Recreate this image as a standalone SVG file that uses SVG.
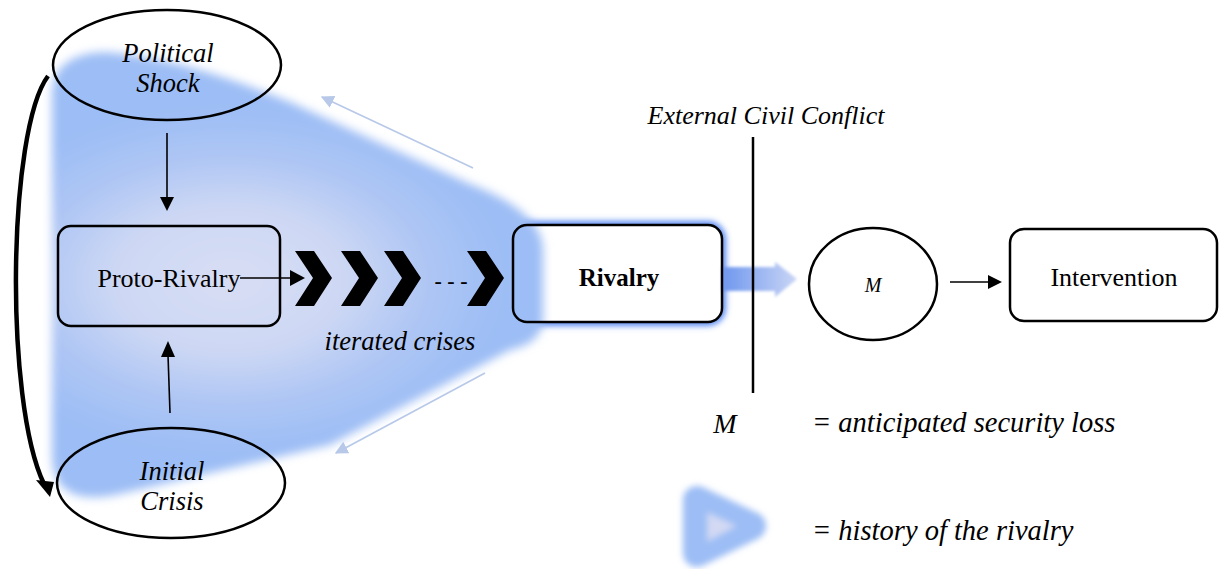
<svg xmlns="http://www.w3.org/2000/svg" width="1220" height="569" viewBox="0 0 1220 569">
<style>
text{font-family:"Liberation Serif","DejaVu Serif","Times New Roman",serif;fill:#000}
.i{font-style:italic}
.ln{stroke:#000;stroke-width:1.6;fill:none}
.bx{fill:none;stroke:#000;stroke-width:2.5}
.lb{stroke:#b7c8e8;stroke-width:1.6;fill:none}
</style>
<defs>
<radialGradient id="bg" gradientUnits="userSpaceOnUse" cx="230" cy="280" r="175" gradientTransform="translate(230 280) scale(1.6 1) translate(-230 -280)">
<stop offset="0" stop-color="#d7ddf4"/>
<stop offset="0.4" stop-color="#ced8f4"/>
<stop offset="0.72" stop-color="#adc5f4"/>
<stop offset="1" stop-color="#9cbdf5"/>
</radialGradient>
<linearGradient id="fa" x1="0" x2="1" y1="0" y2="0">
<stop offset="0" stop-color="#6f97ee"/>
<stop offset="1" stop-color="#c9d5f5"/>
</linearGradient>
<filter id="blur" filterUnits="userSpaceOnUse" x="0" y="0" width="1220" height="569"><feGaussianBlur stdDeviation="5"/></filter>
<filter id="blur2" filterUnits="userSpaceOnUse" x="0" y="0" width="1220" height="569"><feGaussianBlur stdDeviation="3"/></filter>
<filter id="blur1" filterUnits="userSpaceOnUse" x="0" y="0" width="1220" height="569"><feGaussianBlur stdDeviation="1.5"/></filter>
<marker id="lah" viewBox="0 0 10 10" refX="9" refY="5" markerWidth="13" markerHeight="13" markerUnits="userSpaceOnUse" orient="auto"><path d="M0,0 L10,5 L0,10 Z" fill="#b7c8e8"/></marker>
</defs>

<g id="rivalry-bg">
<rect x="513" y="225" width="209" height="97" rx="14" fill="none" stroke="#3f78f0" stroke-width="7" filter="url(#blur2)"/>
<rect x="513" y="225" width="209" height="97" rx="14" fill="#fff"/>
</g>

<g id="history-blob">
<path d="M52 95 Q52 54 105 52 Q180 57 290 102 L470 184 Q543 212 543 250 L543 318 Q543 343 510 350 L330 445 L115 495 Q52 507 52 455 Z" fill="url(#bg)" filter="url(#blur)"/>
</g>

<g id="connectors">
<path d="M48 76 C8 130, 4 400, 44 484" stroke="#000" stroke-width="4.5" fill="none"/>
<path d="M36 480 L54 482 L50 497 Z" fill="#000"/>
<line x1="167" y1="133" x2="167" y2="199" class="ln"/>
<path d="M160 197 L174 197 L167 211 Z" fill="#000"/>
<line x1="170" y1="413" x2="168" y2="355" class="ln"/>
<path d="M161 357 L175 357 L168 341 Z" fill="#000"/>
<line x1="240" y1="278" x2="292" y2="278" class="ln"/>
<path d="M290 270 L305 278 L290 286 Z" fill="#000"/>
<line x1="473" y1="168" x2="322" y2="97" class="lb" marker-end="url(#lah)"/>
<line x1="485" y1="373" x2="336" y2="453" class="lb" marker-end="url(#lah)"/>
<line x1="950" y1="282" x2="990" y2="282" class="ln"/>
<path d="M988 275 L1002 282 L988 289 Z" fill="#000"/>
<polygon points="722,267 775,267 775,262 797,279 775,297 775,291 722,291" fill="url(#fa)" filter="url(#blur1)"/>
<line x1="753" y1="137" x2="753" y2="393" stroke="#000" stroke-width="2.5"/>
</g>

<g id="political-shock">
<ellipse cx="167" cy="65" rx="114" ry="55" class="bx"/>
<text class="i" x="168" y="62" font-size="26.5" text-anchor="middle">Political</text>
<text class="i" x="168" y="92" font-size="26.5" text-anchor="middle">Shock</text>
</g>

<g id="proto-rivalry">
<rect x="58" y="226" width="222" height="100" rx="13" class="bx"/>
<text x="169" y="287" font-size="26" text-anchor="middle">Proto-Rivalry</text>
</g>

<g id="iterated-crises">
<polygon points="295,251 314,251 332,278 314,306 295,306 313,278" fill="#000"/>
<polygon points="341,251 360,251 378,278 360,306 341,306 359,278" fill="#000"/>
<polygon points="384,251 403,251 421,278 403,306 384,306 402,278" fill="#000"/>
<polygon points="467,251 486,251 504,278 486,306 467,306 485,278" fill="#000"/>
<text x="451" y="288" font-size="22" font-weight="bold" text-anchor="middle">- - -</text>
<text class="i" x="400" y="350" font-size="26.5" text-anchor="middle">iterated crises</text>
</g>

<g id="initial-crisis">
<ellipse cx="171" cy="483" rx="114" ry="55" class="bx"/>
<text class="i" x="172" y="480" font-size="26.5" text-anchor="middle">Initial</text>
<text class="i" x="172" y="510" font-size="26.5" text-anchor="middle">Crisis</text>
</g>

<g id="rivalry">
<rect x="513" y="225" width="209" height="97" rx="14" fill="none" stroke="#000" stroke-width="2.5"/>
<text x="619" y="286" font-size="25" font-weight="bold" text-anchor="middle">Rivalry</text>
</g>

<g id="external-civil-conflict">
<text class="i" x="766" y="124" font-size="26" text-anchor="middle">External Civil Conflict</text>
</g>

<g id="m-node">
<ellipse cx="873" cy="284" rx="64" ry="56" class="bx"/>
<text class="i" x="873" y="292" font-size="20" text-anchor="middle">M</text>
</g>

<g id="intervention">
<rect x="1010" y="229" width="207" height="92" rx="14" class="bx"/>
<text x="1114" y="286" font-size="26" text-anchor="middle">Intervention</text>
</g>

<g id="legend">
<text class="i" x="725" y="433" font-size="28" text-anchor="middle">M</text>
<text class="i" x="812" y="432" font-size="28.5">= anticipated security loss</text>
<path d="M697 500 L752 526 L697 553 Z" fill="#9cbdf5" stroke="#9cbdf5" stroke-width="28" stroke-linejoin="round" filter="url(#blur2)"/>
<path d="M707 512 L737 526 L707 542 Z" fill="#d3d9f3" filter="url(#blur2)"/>
<text class="i" x="812" y="540" font-size="28.5">= history of the rivalry</text>
</g>
</svg>
